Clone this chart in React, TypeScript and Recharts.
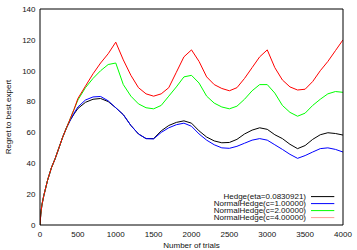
import React from 'react';
import { LineChart, Line, XAxis, YAxis, Legend } from 'recharts';

const trials = [0, 10, 25, 50, 100, 150, 200, 250, 300, 350, 400, 450, 500, 600, 700, 800, 900, 1000, 1100, 1200, 1300, 1400, 1500, 1600, 1700, 1800, 1900, 2000, 2100, 2200, 2300, 2400, 2500, 2600, 2700, 2800, 2900, 3000, 3100, 3200, 3300, 3400, 3500, 3600, 3700, 3800, 3900, 4000];

const hedge = [0, 7, 13, 19, 29, 37, 43, 50, 57, 63, 68, 72, 75.5, 79.5, 81.5, 82, 80, 76, 71.5, 64.5, 59, 56, 56, 61, 64.5, 66.5, 67.5, 66, 61, 57, 54.5, 53.3, 53.5, 55.5, 59, 61.5, 63, 62, 58.5, 56, 52.3, 49.5, 51.5, 55.5, 58.5, 59.8, 59.3, 58.3];
const normalHedge1 = [0, 7, 13, 19, 29, 37, 43, 50, 57, 63, 68, 72.5, 76.5, 81, 83, 83.3, 80.5, 76, 71.5, 64.5, 59, 56, 55.8, 60, 63, 65, 66, 64, 59, 55, 52, 50, 49.7, 51, 53, 55, 56, 55, 52, 49, 45.8, 43.2, 45, 47.3, 49.5, 50, 49, 47.3];
const normalHedge2 = [0, 7, 13, 19, 29, 37, 43, 50, 57, 63, 69, 75, 81, 89, 95, 100, 104, 105, 91, 83.5, 78.5, 76, 75.3, 77.5, 83.5, 89.5, 96, 97, 92, 83.5, 79, 76.5, 75.3, 77, 81.5, 87, 91, 91, 85.5, 77.5, 73, 70.5, 72.5, 77.5, 81.5, 85, 86.5, 86];
const normalHedge4 = [0, 7, 13, 19, 29, 37, 43, 50, 57, 63, 69, 75, 82, 90, 98, 105, 111, 118.5, 107, 97, 89, 85, 83.5, 85, 89, 99, 109, 113.5, 106, 96, 91, 88.5, 87, 89, 95, 102, 109, 113.5, 102, 94, 89.5, 87.5, 88, 93, 100, 106, 113, 120];

const seriesNames = ['Hedge(eta=0.0830921)', 'NormalHedge(c=1.00000)', 'NormalHedge(c=2.00000)', 'NormalHedge(c=4.00000)'];
const seriesKeys = ['hedge', 'nh1', 'nh2', 'nh4'];
const seriesColors = ['#000000', '#0000ff', '#00ff00', '#ff0000'];
const legendColors = ['#000000', '#0000ff', '#00ff00', 'rgba(255,0,0,0.4)'];

const xTicks = [0, 500, 1000, 1500, 2000, 2500, 3000, 3500, 4000];
const yTicks = [0, 20, 40, 60, 80, 100, 120, 140];

const data = trials.map((t, i) => ({
  x: t,
  hedge: hedge[i],
  nh1: normalHedge1[i],
  nh2: normalHedge2[i],
  nh4: normalHedge4[i],
}));

const FONT = '"Liberation Sans", Arial, Helvetica, sans-serif';
const TXT = '#111';

const renderLegend = () => (
  <div style={{ fontFamily: FONT, fontSize: 8, color: TXT }}>
    {seriesNames.map((n, i) => (
      <div key={n} style={{ display: 'flex', justifyContent: 'flex-end', alignItems: 'center', height: 7.2, lineHeight: '7.2px' }}>
        <span style={{ whiteSpace: 'nowrap' }}>{n}</span>
        <svg width={24} height={7.2} style={{ marginLeft: 5, display: 'block' }}>
          <line x1={0} x2={23.3} y1={3.6} y2={3.6} stroke={legendColors[i]} strokeWidth={1} />
        </svg>
      </div>
    ))}
  </div>
);

const renderYLabel = (props: any) => {
  const vb = props.viewBox || { x: 0, y: 9, width: 40, height: 216 };
  const cx = vb.x + 8.5;
  const cy = vb.y + vb.height / 2;
  return (
    <text x={cx} y={cy} transform={`rotate(-90, ${cx}, ${cy})`} textAnchor="middle" dominantBaseline="central" fontSize={8} fontFamily={FONT} fill={TXT}>
      Regret to best expert
    </text>
  );
};

const renderXLabel = (props: any) => {
  const vb = props.viewBox || { x: 40, y: 225, width: 303, height: 25 };
  return (
    <text x={vb.x + vb.width / 2} y={vb.y + 23.3} textAnchor="middle" fontSize={8} fontFamily={FONT} fill={TXT}>
      Number of trials
    </text>
  );
};

export default function App() {
  return (
    <div style={{ position: 'absolute', left: 0, top: 0, width: 357, height: 250, background: '#fff' }}>
      <LineChart width={357} height={250} data={data} margin={{ top: 9, right: 14, bottom: 0, left: 0 }}>
        <XAxis xAxisId="mb" dataKey="x" type="number" domain={[0, 4000]} ticks={xTicks} orientation="bottom" mirror tick={false} tickSize={4} stroke="#000" allowDataOverflow />
        <XAxis xAxisId="mt" dataKey="x" type="number" domain={[0, 4000]} ticks={xTicks} orientation="top" mirror tick={false} tickSize={4} stroke="#000" allowDataOverflow />
        <YAxis yAxisId="ml" type="number" domain={[0, 140]} ticks={yTicks} orientation="left" mirror tick={false} tickSize={4} stroke="#000" allowDataOverflow />
        <YAxis yAxisId="mr" type="number" domain={[0, 140]} ticks={yTicks} orientation="right" mirror tick={false} tickSize={4} stroke="#000" allowDataOverflow />
        <XAxis xAxisId="main" dataKey="x" type="number" domain={[0, 4000]} ticks={xTicks} height={25} axisLine={false} tickLine={false} tickSize={0} tickMargin={6} tick={{ fontSize: 8, fontFamily: FONT, fill: TXT }} label={renderXLabel} allowDataOverflow />
        <YAxis yAxisId="main" type="number" domain={[0, 140]} ticks={yTicks} width={40} axisLine={false} tickLine={false} tickSize={0} tickMargin={4.5} tick={{ fontSize: 8, fontFamily: FONT, fill: TXT }} label={renderYLabel} allowDataOverflow />
        {seriesKeys.map((k, i) => (
          <Line key={k} xAxisId="main" yAxisId="main" type="linear" dataKey={k} name={seriesNames[i]} stroke={seriesColors[i]} strokeWidth={1} dot={false} activeDot={false} isAnimationActive={false} />
        ))}
        <Legend content={renderLegend} layout="vertical" align="center" verticalAlign="middle" wrapperStyle={{ left: 195, top: 192.7, width: 140 }} />
      </LineChart>
    </div>
  );
}
